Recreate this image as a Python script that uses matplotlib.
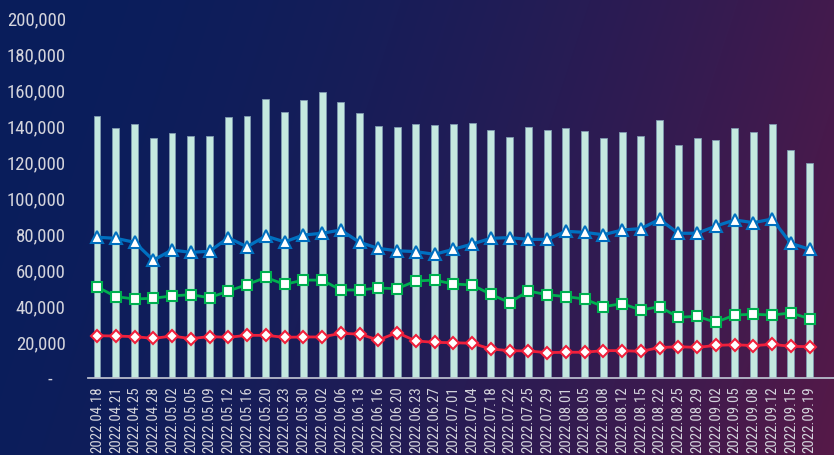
import numpy as np
import matplotlib
matplotlib.use("Agg")
import matplotlib.pyplot as plt
from matplotlib import font_manager
from matplotlib.ticker import FuncFormatter

dates = ["2022.04.18", "2022.04.21", "2022.04.25", "2022.04.28", "2022.05.02",
         "2022.05.05", "2022.05.09", "2022.05.12", "2022.05.16", "2022.05.20",
         "2022.05.23", "2022.05.30", "2022.06.02", "2022.06.06", "2022.06.13",
         "2022.06.16", "2022.06.20", "2022.06.23", "2022.06.27", "2022.07.01",
         "2022.07.04", "2022.07.18", "2022.07.22", "2022.07.25", "2022.07.29",
         "2022.08.01", "2022.08.05", "2022.08.08", "2022.08.12", "2022.08.15",
         "2022.08.22", "2022.08.25", "2022.08.29", "2022.09.02", "2022.09.05",
         "2022.09.08", "2022.09.12", "2022.09.15", "2022.09.19"]

total = [145700, 138700, 141100, 133100, 135900, 134400, 134300, 144800, 145400, 155200,
         147600, 154600, 158700, 153100, 147000, 140200, 139600, 141300, 140600, 141100,
         141900, 137600, 133700, 139600, 137600, 138900, 137400, 133100, 136900, 134400,
         143100, 129200, 133300, 132000, 138700, 136700, 141100, 126700, 119400]

blue = [78200, 77600, 75400, 65500, 71100, 69800, 70400, 77900, 72900, 78900,
        75600, 79400, 80400, 82200, 75400, 72000, 70700, 70200, 68700, 71500,
        74400, 77600, 78000, 77000, 77000, 81500, 80900, 79600, 82200, 83000,
        88100, 80400, 80400, 84400, 87800, 86300, 88300, 74800, 71500]

green = [50700, 45200, 43900, 44300, 45600, 46300, 44600, 48300, 51900, 55900,
         52000, 54400, 54400, 48900, 48900, 50000, 49600, 53900, 54400, 52200,
         51700, 46500, 41900, 48300, 46300, 45200, 43900, 39600, 41300, 37800,
         39600, 33700, 34300, 30900, 35000, 35400, 35000, 36100, 33000]

red = [23500, 23300, 23000, 22000, 23300, 21900, 23000, 22600, 23700, 23700,
       22600, 22800, 22800, 24800, 24400, 21100, 25200, 20600, 19800, 19600,
       19300, 16100, 15200, 15000, 14100, 14300, 14300, 15200, 15200, 14800,
       16900, 17400, 17000, 18100, 18500, 18000, 18700, 17600, 17400]

# pick a narrow face if one is installed (the original uses a condensed DIN-like font)
fonts = font_manager.fontManager.ttflist
names = {f.name for f in fonts}
stretch = "normal"
font = None
for cand in ["Roboto Condensed", "Liberation Sans Narrow", "Open Sans Condensed",
             "Noto Sans Condensed", "DejaVu Sans Condensed"]:
    if cand in names:
        font = cand
        break
if font is None:
    if any(f.name == "DejaVu Sans" and f.stretch == "condensed" for f in fonts):
        font, stretch = "DejaVu Sans", "condensed"
    elif "Roboto" in names:
        font = "Roboto"
    else:
        font = "DejaVu Sans"
plt.rcParams["font.family"] = [font, "DejaVu Sans"]
plt.rcParams["font.stretch"] = stretch

fig = plt.figure(figsize=(8.34, 4.55), dpi=100)

# gradient background navy -> maroon
bg = fig.add_axes([0, 0, 1, 1], zorder=-10)
h, w = 455, 834
xx, yy = np.meshgrid(np.linspace(0, 1, w), np.linspace(0, 1, h))
t = np.clip(0.85 * xx + 0.15 * yy, 0, 1) ** 1.8
c0 = np.array([9, 30, 92]) / 255
c1 = np.array([86, 25, 72]) / 255
img = c0[None, None, :] * (1 - t[..., None]) + c1[None, None, :] * t[..., None]
bg.imshow(img, aspect="auto", extent=[0, 1, 0, 1], origin="upper")
bg.axis("off")

ax = fig.add_axes([88 / 834, 77 / 455, 746 / 834, 360 / 455])
ax.patch.set_alpha(0)
x = np.arange(len(dates))

ax.bar(x, total, width=0.37, color="#c4e8df", edgecolor="#7f9ab0", linewidth=0.6, zorder=1)
ax.plot(x, blue, color="#0070c0", lw=2.3, marker="^", ms=8, mfc="white", mec="#0070c0",
        mew=1.5, zorder=3)
ax.plot(x, green, color="#00b050", lw=2.0, marker="s", ms=7.5, mfc="white", mec="#00b050",
        mew=1.5, zorder=3)
ax.plot(x, red, color="#f0203c", lw=2.0, marker="D", ms=6.5, mfc="white", mec="#f0203c",
        mew=1.5, zorder=3)

ax.set_xlim(-0.48, 39.3)
ax.set_ylim(0, 200000)
ax.set_yticks(np.arange(0, 200001, 20000))
ax.yaxis.set_major_formatter(FuncFormatter(lambda v, p: "-   " if v == 0 else f"{int(v):,}"))
ax.set_xticks(x)
ax.set_xticklabels(dates, rotation=90)

for s in ["top", "right", "left"]:
    ax.spines[s].set_visible(False)
ax.spines["bottom"].set_color("#b8bccc")
ax.spines["bottom"].set_linewidth(1.3)

small = font not in ("Roboto Condensed", "Liberation Sans Narrow", "Open Sans Condensed",
                     "Noto Sans Condensed", "DejaVu Sans Condensed") and stretch == "normal"
ax.tick_params(axis="y", length=0, pad=16, labelsize=11.5 if small else 13.5,
               labelcolor="#d4d4dc")
ax.tick_params(axis="x", length=0, pad=6, labelsize=9 if small else 10.7,
               labelcolor="#d4d4dc")

fig.savefig("out.png", dpi=100)
